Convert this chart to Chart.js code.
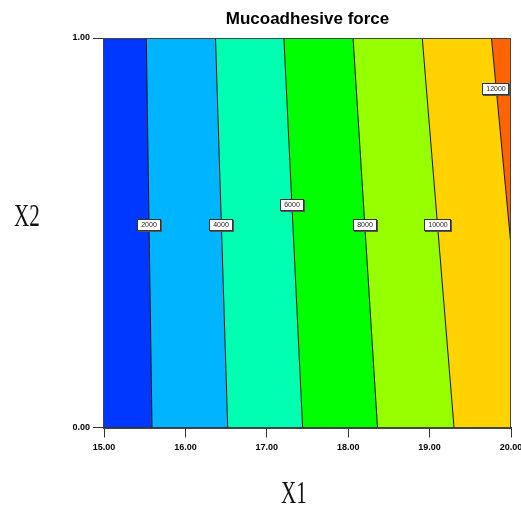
<!DOCTYPE html>
<html>
<head>
<meta charset="utf-8">
<script src="https://cdn.jsdelivr.net/npm/chart.js@4.4.1/dist/chart.umd.min.js"></script>
<style>
  html, body { margin: 0; padding: 0; background: #fff; }
  #wrap { width: 521px; height: 514px; }
</style>
</head>
<body>
<div id="wrap"><canvas id="contour"></canvas></div>
<script>
// X2 values where each contour is sampled (bottom and top of the design space)
const X2_POINTS = [0, 1];

// contour levels and the X1 position of each one at X2 = 0 and X2 = 1
const LEVELS = [2000, 4000, 6000, 8000, 10000, 12000];
const X1_AT_LEVEL = [
  [15.59, 15.52],
  [16.52, 16.37],
  [17.44, 17.21],
  [18.36, 18.06],
  [19.30, 18.91],
  [20.21, 19.76],
];

// X2 position of the value tag on each contour
const LABEL_X2 = [0.52, 0.52, 0.57, 0.52, 0.52, 0.87];

// one colour per band, left to right
const BAND_COLORS = ['#0038ff', '#00b4ff', '#00ffb0', '#00ff00', '#96ff00', '#ffd200', '#ff6400'];

const X1_TICKS = [15, 16, 17, 18, 19, 20];
const X2_TICKS = [0, 1];

const X1_MIN = X1_TICKS[0], X1_MAX = X1_TICKS[X1_TICKS.length - 1];

const lineData = (i) => X2_POINTS.map((x2, k) => ({ x: X1_AT_LEVEL[i][k], y: x2 }));

const datasets = LEVELS.map((lvl, i) => ({
  label: String(lvl),
  data: lineData(i),
  borderColor: '#141414',
  borderWidth: 1,
  backgroundColor: BAND_COLORS[i],
  fill: i === 0 ? { value: X1_MIN } : '-1',
  pointRadius: 0,
  tension: 0,
}));
// last band, right of the highest contour
datasets.push({
  label: '> ' + LEVELS[LEVELS.length - 1],
  data: lineData(LEVELS.length - 1),
  borderWidth: 0,
  backgroundColor: BAND_COLORS[LEVELS.length],
  fill: { value: X1_MAX },
  pointRadius: 0,
});

// small boxed value tags sitting on the contour lines
const contourTags = {
  id: 'contourTags',
  afterDatasetsDraw(chart) {
    const { ctx, scales: { x, y } } = chart;
    ctx.save();
    ctx.font = '7px Arial';
    ctx.textAlign = 'center';
    ctx.textBaseline = 'middle';
    LEVELS.forEach((lvl, i) => {
      const t = LABEL_X2[i];
      const [a, b] = X1_AT_LEVEL[i];
      const px = Math.round(x.getPixelForValue(a + (b - a) * t));
      const py = Math.round(y.getPixelForValue(t));
      const text = String(lvl);
      const w = Math.round(ctx.measureText(text).width) + 8;
      const h = 12;
      const left = px - Math.round(w / 2), top = py - Math.round(h / 2);
      ctx.fillStyle = '#555';
      ctx.fillRect(left + 1, top + 1, w, h);
      ctx.fillStyle = '#fff';
      ctx.fillRect(left, top, w, h);
      ctx.strokeStyle = '#333';
      ctx.lineWidth = 1;
      ctx.strokeRect(left + 0.5, top + 0.5, w - 1, h - 1);
      ctx.fillStyle = '#222';
      ctx.fillText(text, px, py + 0.5);
    });
    ctx.restore();
  },
};

// frame round the plot and the two factor names
const frameAndTitles = {
  id: 'frameAndTitles',
  afterDraw(chart) {
    const { ctx, chartArea: a } = chart;
    ctx.save();
    ctx.strokeStyle = '#444';
    ctx.lineWidth = 1;
    ctx.strokeRect(Math.round(a.left) - 0.5, Math.round(a.top) + 0.5,
      Math.round(a.right - a.left), Math.round(a.bottom - a.top));

    ctx.fillStyle = '#111';
    ctx.font = '31px "Liberation Serif", "Times New Roman", serif';
    ctx.textAlign = 'center';
    ctx.textBaseline = 'middle';
    const drawNarrow = (text, cx, cy) => {
      ctx.save();
      ctx.translate(cx, cy);
      ctx.scale(0.68, 1);
      ctx.fillText(text, 0, 0);
      ctx.restore();
    };
    drawNarrow('X2', 27, 218);
    drawNarrow('X1', 294, 495);
    ctx.restore();
  },
};

const tickFont = { family: 'Arial', size: 9, weight: 'bold' };

new Chart(document.getElementById('contour'), {
  type: 'line',
  data: { datasets },
  options: {
    indexAxis: 'y',
    responsive: true,
    maintainAspectRatio: false,
    animation: false,
    events: [],
    layout: { padding: { left: 0, right: 10, top: 0, bottom: 0 } },
    plugins: {
      legend: { display: false },
      tooltip: { enabled: false },
      filler: { propagate: false },
      title: {
        display: true,
        text: 'Mucoadhesive force',
        fullSize: false,
        color: '#000',
        font: { family: 'Arial', size: 17, weight: 'bold' },
        padding: { top: 9, bottom: 8.6 },
      },
    },
    scales: {
      x: {
        type: 'linear',
        position: 'bottom',
        min: X1_MIN,
        max: X1_MAX,
        afterBuildTicks: (s) => { s.ticks = X1_TICKS.map((v) => ({ value: v })); },
        afterFit: (s) => { s.height = 86.5; s.paddingLeft = 0; s.paddingRight = 0; },
        ticks: {
          autoSkip: false,
          maxRotation: 0,
          padding: 5,
          color: '#000',
          font: tickFont,
          callback: (v) => Number(v).toFixed(2),
        },
        grid: { drawOnChartArea: false, drawTicks: true, tickLength: 10, color: '#333' },
        border: { color: '#333' },
      },
      y: {
        type: 'linear',
        position: 'left',
        min: X2_TICKS[0],
        max: X2_TICKS[X2_TICKS.length - 1],
        afterBuildTicks: (s) => { s.ticks = X2_TICKS.map((v) => ({ value: v })); },
        afterFit: (s) => { s.width = 104; s.paddingTop = 0; s.paddingBottom = 0; },
        ticks: {
          autoSkip: false,
          padding: 3,
          color: '#000',
          font: tickFont,
          callback: (v) => Number(v).toFixed(2),
        },
        grid: { drawOnChartArea: false, drawTicks: true, tickLength: 11, color: '#333' },
        border: { color: '#333' },
      },
    },
  },
  plugins: [contourTags, frameAndTitles],
});
</script>
</body>
</html>
